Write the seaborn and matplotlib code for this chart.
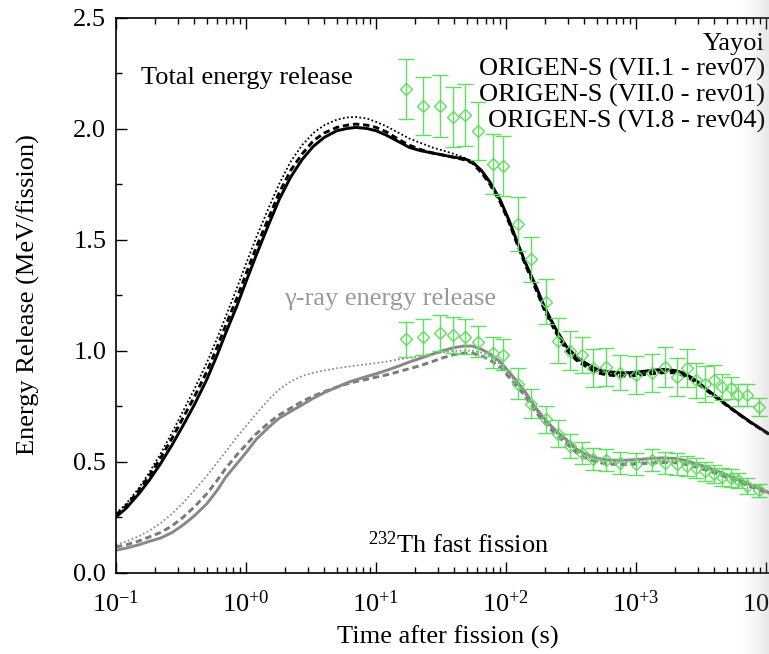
import numpy as np
import pandas as pd
import matplotlib
matplotlib.use("Agg")
import matplotlib.pyplot as plt
from matplotlib.lines import Line2D
from matplotlib.ticker import MultipleLocator, FixedLocator, FixedFormatter, LogLocator, NullFormatter
import seaborn as sns

# ---------------- data ----------------
times = [0.1, 0.12, 0.15, 0.18, 0.22, 0.27, 0.33, 0.4, 0.5, 0.6, 0.7, 0.85, 1.0, 1.2, 1.5, 1.8,
         2.2, 2.7, 3.3, 4.0, 5.0, 6.0, 7.0, 8.5, 10, 12, 15, 18, 22, 27, 33, 40, 47, 55, 65, 75,
         90, 105, 120, 140, 170, 200, 240, 290, 350, 420, 500, 600, 750, 900, 1100, 1300, 1600,
         2000, 2400, 2900, 3500, 4200, 5000, 6000, 7500, 9000, 10500]

total_vii1 = [0.25, 0.29, 0.355, 0.415, 0.49, 0.575, 0.665, 0.755, 0.87, 0.98, 1.08, 1.20, 1.31,
              1.43, 1.57, 1.68, 1.78, 1.86, 1.92, 1.96, 1.99, 2.00, 2.005, 2.0, 1.99, 1.97, 1.94,
              1.915, 1.90, 1.89, 1.88, 1.87, 1.865, 1.85, 1.81, 1.76, 1.68, 1.59, 1.50, 1.40,
              1.29, 1.19, 1.10, 1.02, 0.97, 0.94, 0.915, 0.905, 0.90, 0.90, 0.905, 0.91, 0.915,
              0.91, 0.895, 0.865, 0.825, 0.79, 0.755, 0.72, 0.68, 0.65, 0.625]
total_vii0 = [0.26, 0.30, 0.37, 0.435, 0.515, 0.605, 0.70, 0.79, 0.905, 1.015, 1.115, 1.235, 1.345,
              1.465, 1.60, 1.71, 1.81, 1.885, 1.945, 1.98, 2.005, 2.015, 2.02, 2.015, 2.005, 1.985,
              1.95, 1.925, 1.905, 1.89, 1.88, 1.87, 1.86, 1.845, 1.80, 1.75, 1.67, 1.58, 1.49,
              1.39, 1.275, 1.175, 1.085, 1.005, 0.955, 0.925, 0.90, 0.89, 0.885, 0.885, 0.89,
              0.895, 0.90, 0.90, 0.885, 0.857, 0.82, 0.785, 0.752, 0.718, 0.678, 0.648, 0.623]
total_vi8 = [0.265, 0.31, 0.38, 0.45, 0.535, 0.63, 0.73, 0.825, 0.945, 1.055, 1.155, 1.28, 1.39,
             1.51, 1.645, 1.75, 1.85, 1.925, 1.98, 2.015, 2.04, 2.05, 2.052, 2.045, 2.03, 2.01,
             1.98, 1.955, 1.935, 1.915, 1.90, 1.885, 1.87, 1.85, 1.805, 1.755, 1.675, 1.585,
             1.495, 1.395, 1.28, 1.18, 1.09, 1.01, 0.96, 0.93, 0.905, 0.895, 0.89, 0.89, 0.895,
             0.90, 0.905, 0.905, 0.89, 0.86, 0.822, 0.787, 0.754, 0.72, 0.68, 0.649, 0.624]

gamma_vii1 = [0.10, 0.11, 0.125, 0.14, 0.155, 0.18, 0.215, 0.255, 0.31, 0.37, 0.43, 0.49, 0.54,
              0.60, 0.655, 0.695, 0.725, 0.755, 0.785, 0.81, 0.835, 0.855, 0.868, 0.883, 0.895,
              0.91, 0.93, 0.948, 0.965, 0.983, 1.0, 1.013, 1.02, 1.02, 1.005, 0.985, 0.95, 0.905,
              0.865, 0.815, 0.74, 0.69, 0.64, 0.60, 0.555, 0.53, 0.515, 0.507, 0.505, 0.507, 0.51,
              0.514, 0.516, 0.514, 0.505, 0.49, 0.475, 0.458, 0.44, 0.42, 0.397, 0.378, 0.36]
gamma_vii0 = [0.115, 0.125, 0.142, 0.16, 0.18, 0.21, 0.25, 0.295, 0.355, 0.415, 0.47, 0.53, 0.575,
              0.625, 0.675, 0.71, 0.74, 0.77, 0.795, 0.815, 0.835, 0.85, 0.86, 0.87, 0.88, 0.89,
              0.905, 0.918, 0.932, 0.95, 0.968, 0.982, 0.988, 0.988, 0.975, 0.958, 0.925, 0.882,
              0.843, 0.795, 0.722, 0.672, 0.622, 0.582, 0.538, 0.513, 0.497, 0.489, 0.486, 0.487,
              0.49, 0.493, 0.495, 0.494, 0.487, 0.474, 0.46, 0.445, 0.428, 0.409, 0.388, 0.37, 0.354]
gamma_vi8 = [0.125, 0.14, 0.163, 0.188, 0.222, 0.265, 0.315, 0.37, 0.435, 0.495, 0.545, 0.61, 0.66,
             0.715, 0.78, 0.825, 0.86, 0.885, 0.90, 0.91, 0.92, 0.927, 0.932, 0.938, 0.943, 0.95,
             0.96, 0.967, 0.975, 0.985, 0.992, 0.998, 1.0, 0.999, 0.99, 0.972, 0.938, 0.893, 0.853,
             0.803, 0.73, 0.68, 0.63, 0.59, 0.546, 0.52, 0.505, 0.497, 0.494, 0.495, 0.498, 0.501,
             0.503, 0.502, 0.495, 0.481, 0.466, 0.45, 0.433, 0.413, 0.391, 0.372, 0.356]

yayoi_t = [17, 23, 31, 39, 48, 61, 79, 95, 124, 155, 202, 249, 313, 387, 470, 590, 755, 1000,
           1325, 1665, 2055, 2450, 2920, 3420, 4010, 4610, 5400, 6110, 7160, 8850]
yayoi_total = [2.18, 2.10, 2.10, 2.05, 2.06, 1.99, 1.84, 1.83, 1.57, 1.41, 1.22, 1.045, 1.00, 0.98,
               0.92, 0.925, 0.90, 0.89, 0.90, 0.925, 0.88, 0.92, 0.865, 0.85, 0.865, 0.835, 0.83,
               0.80, 0.80, 0.745]
yayoi_total_err = [0.135, 0.13, 0.14, 0.135, 0.14, 0.13, 0.135, 0.135, 0.12, 0.10, 0.10, 0.10, 0.09,
                   0.08, 0.085, 0.085, 0.08, 0.085, 0.085, 0.09, 0.085, 0.085, 0.08, 0.08, 0.07,
                   0.06, 0.05, 0.05, 0.05, 0.04]
yayoi_gamma = [1.05, 1.06, 1.08, 1.07, 1.063, 1.04, 0.99, 0.98, 0.85, 0.76, 0.69, 0.625, 0.57, 0.54,
               0.51, 0.505, 0.495, 0.49, 0.505, 0.495, 0.49, 0.48, 0.47, 0.455, 0.445, 0.43, 0.425,
               0.415, 0.39, 0.37]
yayoi_gamma_err = [0.08, 0.08, 0.08, 0.08, 0.08, 0.07, 0.07, 0.07, 0.07, 0.065, 0.06, 0.06, 0.055,
                   0.05, 0.05, 0.05, 0.05, 0.05, 0.05, 0.05, 0.05, 0.045, 0.045, 0.045, 0.04, 0.04,
                   0.04, 0.035, 0.035, 0.03]

x_tick_vals = [0.1, 1, 10, 100, 1000, 10000]
x_tick_labels = [r"$10^{-1}$", r"$10^{+0}$", r"$10^{+1}$", r"$10^{+2}$", r"$10^{+3}$", r"$10^{+4}$"]
y_tick_vals = [0.0, 0.5, 1.0, 1.5, 2.0, 2.5]
y_tick_labels = ["0.0", "0.5", "1.0", "1.5", "2.0", "2.5"]
legend_labels = ["Yayoi", "ORIGEN-S (VII.1 - rev07)", "ORIGEN-S (VII.0 - rev01)", "ORIGEN-S (VI.8 - rev04)"]

# ---------------- style ----------------
sns.set_theme(style="ticks")
plt.rcParams["font.family"] = ["Liberation Serif", "DejaVu Serif"]
plt.rcParams["mathtext.fontset"] = "custom"
plt.rcParams["mathtext.rm"] = "Liberation Serif"
plt.rcParams["mathtext.it"] = "Liberation Serif:italic"
plt.rcParams["mathtext.bf"] = "Liberation Serif:bold"
plt.rcParams["axes.linewidth"] = 1.2

FS = 19
GREEN = "#5ee05e"

fig = plt.figure(figsize=(7.69, 6.54), dpi=100)
fig.patch.set_facecolor("white")
W, H = 769.0, 654.0
left_px, right_px, bot_px, top_px = 116.0, 780.0, 572.5, 17.5
ax = fig.add_axes([left_px / W, 1 - bot_px / H, (right_px - left_px) / W, (bot_px - top_px) / H])
ax.set_facecolor("white")
ax.set_xscale("log")
xmax = 10 ** (-1 + (right_px - left_px) / 130.0)

DASH = (0, (2.2, 1.3))
DOT = (0, (1, 1.3))

# model curves
sns.lineplot(x=times, y=gamma_vi8, ax=ax, color="#8e8e8e", linewidth=1.3, linestyle=DOT)
sns.lineplot(x=times, y=gamma_vii0, ax=ax, color="#7a7a7a", linewidth=2.1, linestyle=DASH)
sns.lineplot(x=times, y=gamma_vii1, ax=ax, color="#888888", linewidth=2.1, linestyle="-")

sns.lineplot(x=times, y=total_vi8, ax=ax, color="black", linewidth=1.3, linestyle=DOT)
sns.lineplot(x=times, y=total_vii0, ax=ax, color="black", linewidth=2.1, linestyle=DASH)
sns.lineplot(x=times, y=total_vii1, ax=ax, color="black", linewidth=2.1, linestyle="-")

# Yayoi measurements
eb_kw = dict(fmt="D", ms=6, mfc="none", mec=GREEN, mew=1.0, ecolor=GREEN,
             elinewidth=1.0, capsize=6, capthick=1.0, zorder=5)
yay = ax.errorbar(yayoi_t, yayoi_total, yerr=yayoi_total_err, **eb_kw)
ax.errorbar(yayoi_t, yayoi_gamma, yerr=yayoi_gamma_err, **eb_kw)

# axes
ax.set_xlim(0.1, xmax)
ax.set_ylim(0.0, 2.5)
ax.xaxis.set_major_locator(FixedLocator(x_tick_vals))
ax.xaxis.set_major_formatter(FixedFormatter(x_tick_labels))
ax.xaxis.set_minor_locator(LogLocator(base=10, subs=np.arange(2, 10), numticks=20))
ax.xaxis.set_minor_formatter(NullFormatter())
ax.yaxis.set_major_locator(FixedLocator(y_tick_vals))
ax.yaxis.set_major_formatter(FixedFormatter(y_tick_labels))
ax.yaxis.set_minor_locator(MultipleLocator(0.25))
ax.tick_params(which="both", direction="in", top=True, right=True, color="black", width=1.0)
ax.tick_params(which="major", length=8, labelsize=FS, labelcolor="black")
ax.tick_params(which="minor", length=4)
ax.tick_params(axis="y", which="major", pad=7)
ax.tick_params(axis="x", which="major", pad=13)
for s in ax.spines.values():
    s.set_color("black")
    s.set_linewidth(1.2)

ax.set_xlabel("Time after fission (s)", fontsize=FS, color="black", labelpad=6)
ax.set_ylabel("Energy Release (MeV/fission)", fontsize=FS, color="black", labelpad=24)

# annotations
ax.text(1.02, 2.2, "Total energy release", fontsize=FS, color="black", ha="center", va="baseline")
ax.text(12.8, 1.205, "\u03b3-ray energy release", fontsize=FS, color="#999999", ha="center", va="baseline")
ax.text(43, 0.088, r"$^{232}$Th fast fission", fontsize=FS, color="black", ha="center", va="baseline")

# legend (handles sit to the right of the text, beyond the visible crop)
handles = [yay,
           Line2D([], [], color="black", linewidth=2.1, linestyle="-"),
           Line2D([], [], color="black", linewidth=2.1, linestyle=DASH),
           Line2D([], [], color="black", linewidth=1.3, linestyle=DOT)]
leg = ax.legend(handles, legend_labels, loc="upper right", bbox_to_anchor=(839 / W, 1 - 32 / H),
                bbox_transform=fig.transFigure, markerfirst=False, frameon=False, fontsize=FS,
                labelspacing=0.07, handletextpad=0.8, handlelength=2.0, borderpad=0, borderaxespad=0)
for t in leg.get_texts():
    t.set_color("black")

# faint shading at the right edge of the scanned page
gax = fig.add_axes([740 / W, 0, 29 / W, 1], zorder=20)
grad = np.zeros((1, 60, 4))
grad[..., :3] = 0.55
grad[..., 3] = np.linspace(0.0, 0.33, 60) ** 1.4
gax.imshow(grad, aspect="auto", interpolation="bilinear")
gax.axis("off")

fig.savefig("out.png", dpi=100, facecolor="white")
